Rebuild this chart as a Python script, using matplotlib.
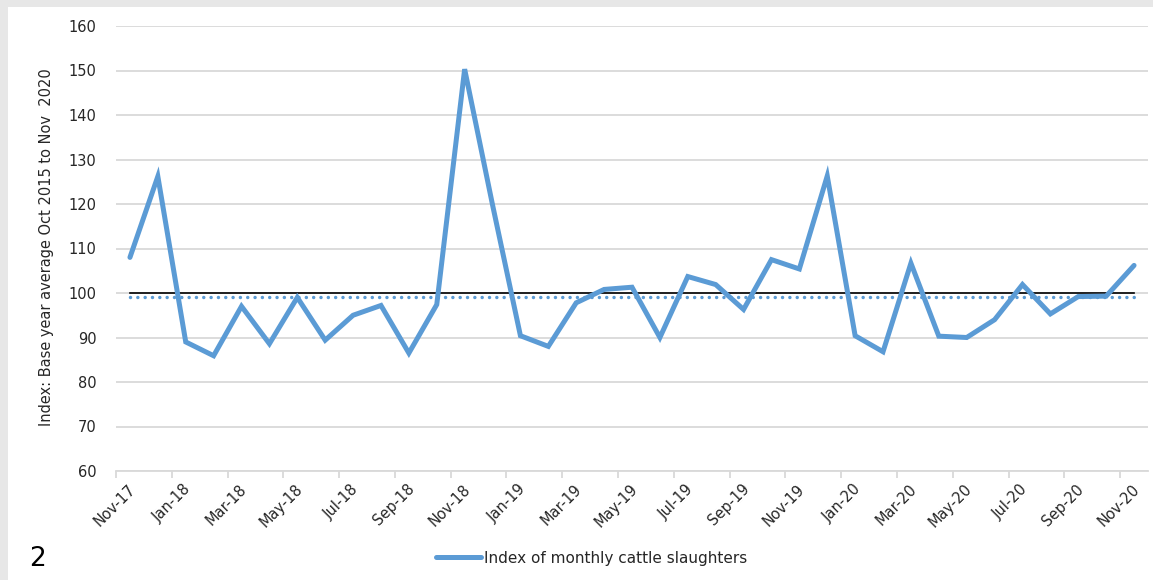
import matplotlib
matplotlib.use("Agg")
import matplotlib.pyplot as plt
from matplotlib.patches import Rectangle
from matplotlib.transforms import ScaledTranslation
import numpy as np

# Monthly slaughter index, Nov 2017 to Nov 2020
months = ["Nov-17", "Dec-17", "Jan-18", "Feb-18", "Mar-18", "Apr-18", "May-18",
          "Jun-18", "Jul-18", "Aug-18", "Sep-18", "Oct-18", "Nov-18", "Dec-18",
          "Jan-19", "Feb-19", "Mar-19", "Apr-19", "May-19", "Jun-19", "Jul-19",
          "Aug-19", "Sep-19", "Oct-19", "Nov-19", "Dec-19", "Jan-20", "Feb-20",
          "Mar-20", "Apr-20", "May-20", "Jun-20", "Jul-20", "Aug-20", "Sep-20",
          "Oct-20", "Nov-20"]
index_values = [108.0, 126.2, 89.0, 85.9, 97.0, 88.6, 99.0,
                89.4, 95.0, 97.2, 86.5, 97.4, 150.3, 119.8,
                90.4, 88.0, 97.8, 100.8, 101.3, 90.0, 103.7,
                101.9, 96.3, 107.5, 105.4, 126.3, 90.4, 86.8,
                106.7, 90.3, 90.0, 94.0, 101.9, 95.3, 99.2,
                99.3, 106.2]
base_level = 100.0
average_level = 99.2
y_ticks = [60, 70, 80, 90, 100, 110, 120, 130, 140, 150, 160]

line_blue = "#5B9BD5"
grid_grey = "#D9D9D9"
text_col = "#262626"

fig = plt.figure(figsize=(11.53, 5.80), dpi=100, facecolor="#E7E7E7")
W, H = 1153, 580
fig.patches.append(Rectangle((8 / W, 0), 1 - 8 / W, 1 - 7 / H,
                             transform=fig.transFigure, facecolor="white",
                             edgecolor="none", zorder=-10))

ax = fig.add_axes([116 / W, 1 - 471 / H, (1148 - 116) / W, (471 - 26) / H])
ax.patch.set_alpha(0)

x = np.arange(len(months))
ax.set_xlim(-0.5, len(months) - 0.5)
ax.set_ylim(60, 160)

ax.set_yticks(y_ticks)
ax.yaxis.grid(True, color=grid_grey, linewidth=1.3)
ax.set_axisbelow(True)
ax.tick_params(axis="y", length=0, pad=14, labelsize=10.5, labelcolor=text_col)

for side in ["left", "right", "top"]:
    ax.spines[side].set_visible(False)
ax.spines["bottom"].set_color(grid_grey)
ax.spines["bottom"].set_linewidth(1.3)

# Reference lines: base year level and dotted average
ax.plot([x[0], x[-1]], [base_level, base_level], color="black", linewidth=1.2, zorder=3)
ax.plot([x[0], x[-1]], [average_level, average_level], color=line_blue,
        linewidth=2.5, linestyle=(0, (0.01, 2.1)), dash_capstyle="round", zorder=3)

ax.plot(x, index_values, color=line_blue, linewidth=3.6, solid_joinstyle="miter",
        solid_capstyle="round", zorder=4, label="Index of monthly cattle slaughters")

# Ticks every two months, on the month boundaries
tick_pos = x[::2] - 0.5
ax.set_xticks(tick_pos)
ax.set_xticklabels(months[::2])
ax.tick_params(axis="x", length=5, width=1.3, color=grid_grey, labelsize=10.5,
               labelcolor=text_col, pad=2)
offset = ScaledTranslation(17 / 100, -6 / 100, fig.dpi_scale_trans)
for lab in ax.get_xticklabels():
    lab.set_rotation(45)
    lab.set_ha("right")
    lab.set_va("center")
    lab.set_rotation_mode("anchor")
    lab.set_transform(lab.get_transform() + offset)

fig.text(47 / W, 1 - 247 / H, "Index: Base year average Oct 2015 to Nov  2020",
         rotation=90, ha="center", va="center", fontsize=11.7,
         family="DejaVu Sans", fontstretch="condensed", color=text_col)

leg = fig.legend(loc="center", bbox_to_anchor=(592 / W, 1 - 558 / H), frameon=False,
                 fontsize=11, handlelength=2.9, handletextpad=0.25)
for t in leg.get_texts():
    t.set_color(text_col)

fig.text(29 / W, 1 - 559 / H, "2", ha="left", va="center", fontsize=19, color="black")

fig.savefig("out.png", dpi=100, facecolor=fig.get_facecolor())
